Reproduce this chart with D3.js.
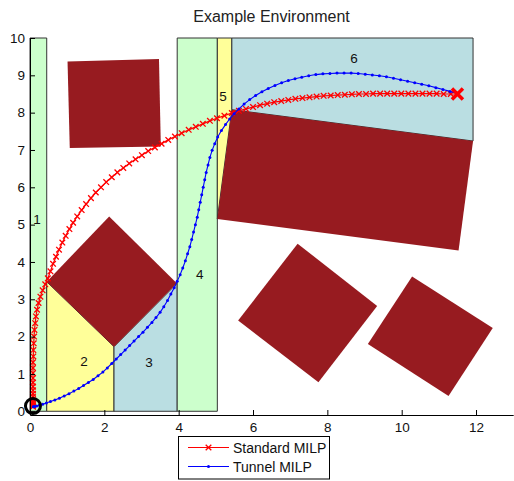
<!DOCTYPE html>
<html><head><meta charset="utf-8">
<script src="https://cdn.jsdelivr.net/npm/d3@7"></script>
<style>
html,body{margin:0;padding:0;background:#fff;}
svg{display:block;font-family:"Liberation Sans",Arial,Helvetica,sans-serif;}
</style></head>
<body><svg id="c" width="514" height="481"></svg>
<script>
// ---------- data ----------
const xTicks = [0,2,4,6,8,10,12];
const yTicks = [0,1,2,3,4,5,6,7,8,9,10];
const title = "Example Environment";
const seriesNames = ["Standard MILP","Tunnel MILP"];

const regionIds = [1,2,3,4,5,6];
const regionKinds = ["green","yellow","blue","green","yellow","blue"];
const regionPolys = [
  [[0,0],[0.45,0],[0.45,10],[0,10]],
  [[0.45,0],[2.26,0],[2.26,1.73],[0.45,3.47]],
  [[2.26,0],[3.96,0],[3.96,3.43],[2.26,1.73]],
  [[3.96,0],[5.04,0],[5.04,10],[3.96,10]],
  [[5.04,5.15],[5.43,8.08],[5.43,10],[5.04,10]],
  [[5.43,8.08],[11.92,7.24],[11.92,10],[5.43,10]]
];
const regionLabelPos = [[0.19,5.13],[1.45,1.32],[3.2,1.30],[4.57,3.66],[5.19,8.42],[8.72,9.45]];

const obstacles = [
  [[1.01,9.37],[3.47,9.44],[3.52,7.09],[1.07,7.05]],
  [[2.13,5.22],[3.95,3.43],[2.26,1.73],[0.45,3.47]],
  [[5.43,8.08],[11.92,7.24],[11.53,4.31],[5.04,5.15]],
  [[7.20,4.49],[9.34,2.82],[7.76,0.78],[5.60,2.43]],
  [[10.28,3.61],[12.45,2.23],[11.26,0.41],[9.09,1.80]]
];

const startPoint = [0.08,0.14];
const goalPoint = [11.5,8.5];

const standardMILP = [
 [0.08,0.12],[0.08,0.14],[0.08,0.17],[0.08,0.21],[0.08,0.26],[0.08,0.32],[0.08,0.39],[0.08,0.47],
 [0.08,0.56],[0.08,0.66],[0.08,0.77],[0.08,0.89],[0.08,1.02],[0.08,1.16],[0.08,1.31],[0.09,1.47],
 [0.09,1.64],[0.1,1.82],[0.11,2.0],[0.12,2.18],[0.14,2.36],[0.16,2.54],[0.19,2.72],[0.23,2.9],
 [0.28,3.07],[0.34,3.24],[0.41,3.40],[0.48,3.56],
 [0.55,3.75],[0.62,3.95],[0.7,4.14],[0.78,4.33],[0.87,4.52],[0.96,4.7],[1.06,4.88],[1.16,5.05],
 [1.27,5.22],[1.39,5.39],[1.51,5.55],[1.64,5.71],[1.77,5.86],[1.91,6.0],[2.05,6.14],[2.2,6.27],
 [2.35,6.4],[2.51,6.52],[2.67,6.64],[2.84,6.75],[3.01,6.86],[3.18,6.97],[3.36,7.07],[3.54,7.17],
 [3.72,7.27],[3.9,7.36],[4.08,7.45],[4.27,7.54],[4.46,7.62],[4.65,7.7],[4.84,7.78],[5.03,7.85],
 [5.23,7.92],[5.43,7.99],
 [5.62,8.05],[5.81,8.1],[6.0,8.15],[6.19,8.2],[6.38,8.24],[6.57,8.28],[6.76,8.31],[6.95,8.34],
 [7.14,8.37],[7.33,8.39],[7.52,8.41],[7.71,8.43],[7.9,8.45],[8.09,8.46],[8.28,8.47],[8.47,8.48],
 [8.66,8.49],[8.85,8.5],[9.04,8.5],[9.23,8.51],[9.42,8.51],[9.61,8.51],[9.8,8.51],[9.99,8.51],
 [10.18,8.51],[10.37,8.51],[10.56,8.51],[10.75,8.51],[10.94,8.51],[11.13,8.5],[11.32,8.5],[11.5,8.5]
];

const tunnelMILP = [
 [0.09,0.12],[0.1,0.12],[0.13,0.13],[0.18,0.14],[0.25,0.16],[0.34,0.19],[0.44,0.22],[0.55,0.26],
 [0.67,0.3],[0.79,0.35],[0.92,0.41],[1.05,0.47],[1.18,0.54],[1.31,0.61],[1.44,0.69],[1.57,0.77],
 [1.7,0.85],[1.83,0.95],[1.96,1.05],[2.08,1.16],[2.2,1.28],[2.32,1.4],[2.44,1.52],[2.56,1.64],
 [2.68,1.76],[2.8,1.88],[2.92,2.0],[3.04,2.12],[3.16,2.25],[3.28,2.38],[3.39,2.51],[3.5,2.65],
 [3.6,2.8],[3.7,2.97],[3.79,3.14],[3.88,3.31],[3.96,3.48],[4.04,3.66],[4.11,3.84],[4.18,4.03],
 [4.24,4.22],[4.3,4.41],[4.35,4.6],[4.4,4.8],[4.45,5.0],[4.5,5.2],[4.54,5.4],[4.58,5.6],
 [4.62,5.8],[4.66,6.0],[4.7,6.2],[4.74,6.4],[4.79,6.6],[4.84,6.8],[4.9,6.99],[4.97,7.17],
 [5.05,7.35],[5.15,7.52],[5.26,7.68],[5.37,7.83],[5.49,7.97],[5.62,8.1],[5.76,8.23],[5.91,8.35],
 [6.07,8.46],[6.24,8.56],[6.41,8.65],[6.59,8.73],[6.77,8.8],[6.95,8.86],[7.13,8.91],[7.31,8.95],
 [7.5,8.99],[7.69,9.02],[7.88,9.04],[8.07,9.05],[8.26,9.06],[8.45,9.06],[8.64,9.06],[8.83,9.05],
 [9.02,9.03],[9.21,9.01],[9.4,8.99],[9.59,8.96],[9.78,8.92],[9.97,8.88],[10.16,8.84],[10.35,8.8],
 [10.54,8.76],[10.73,8.72],[10.92,8.67],[11.11,8.62],[11.3,8.57],[11.48,8.52]
];

// ---------- styles ----------
const kindColor = {green:"#ccffcc", yellow:"#ffff99", blue:"#badee2"};
const obstacleColor = "#971b20";
const redColor = "#ff0000", blueColor = "#0000ff";

// ---------- drawing ----------
const svg = d3.select("#c");
const x = d3.scaleLinear().domain([0,13]).range([30,513.2]);
const y = d3.scaleLinear().domain([-0.1,10]).range([415,38]);
const pt = d => [x(d[0]), y(d[1])];

svg.append("text").attr("x",271.5).attr("y",22).attr("text-anchor","middle")
  .attr("font-size",16).attr("fill","#222").text(title);

svg.append("g").selectAll("polygon").data(regionPolys).join("polygon")
  .attr("points", d => d.map(pt).map(p=>p.join(",")).join(" "))
  .attr("fill", (d,i) => kindColor[regionKinds[i]])
  .attr("stroke","#333").attr("stroke-width",1);

svg.append("g").selectAll("polygon").data(obstacles).join("polygon")
  .attr("points", d => d.map(pt).map(p=>p.join(",")).join(" "))
  .attr("fill", obstacleColor);

svg.append("g").selectAll("text").data(regionIds).join("text")
  .attr("x",(d,i)=>x(regionLabelPos[i][0])).attr("y",(d,i)=>y(regionLabelPos[i][1]))
  .attr("text-anchor","middle").attr("dominant-baseline","central")
  .attr("font-size",13.5).attr("fill","#111").text(d=>d);

const line = d3.line().x(d=>x(d[0])).y(d=>y(d[1]));
const xMark = (s) => `M${-s},${-s}L${s},${s}M${-s},${s}L${s},${-s}`;

// Standard MILP
svg.append("path").attr("d",line(standardMILP)).attr("fill","none")
  .attr("stroke",redColor).attr("stroke-width",1.2);
svg.append("g").selectAll("path").data(standardMILP).join("path")
  .attr("transform",d=>`translate(${x(d[0])},${y(d[1])})`)
  .attr("d",xMark(2.8)).attr("stroke",redColor).attr("stroke-width",1.3).attr("fill","none");

// Tunnel MILP
svg.append("path").attr("d",line(tunnelMILP)).attr("fill","none")
  .attr("stroke",blueColor).attr("stroke-width",1.1);
svg.append("g").selectAll("circle").data(tunnelMILP).join("circle")
  .attr("cx",d=>x(d[0])).attr("cy",d=>y(d[1])).attr("r",1.5).attr("fill",blueColor);

// start / goal
svg.append("circle").attr("cx",x(startPoint[0])).attr("cy",y(startPoint[1])).attr("r",7.5)
  .attr("fill","none").attr("stroke","#000").attr("stroke-width",3);
svg.append("path").attr("transform",`translate(${x(goalPoint[0])},${y(goalPoint[1])})`)
  .attr("d",xMark(5.5)).attr("stroke",redColor).attr("stroke-width",3.5).attr("fill","none");

// axes
const xAxis = d3.axisBottom(x).tickValues(xTicks).tickSizeInner(-5).tickSizeOuter(0).tickPadding(7);
const yAxis = d3.axisLeft(y).tickValues(yTicks).tickSizeInner(-5).tickSizeOuter(0).tickPadding(5);
const gx = svg.append("g").attr("transform","translate(0,415)").call(xAxis);
const gy = svg.append("g").attr("transform","translate(30,0)").call(yAxis);
[gx,gy].forEach(g=>{
  g.selectAll("text").attr("font-size",13.5).attr("fill","#111").attr("font-family","Liberation Sans, Arial, sans-serif");
  g.selectAll("line,path").attr("stroke","#000");
});

// legend
const lg = svg.append("g");
lg.append("rect").attr("x",178.5).attr("y",436.5).attr("width",151).attr("height",42.5)
  .attr("fill","#fff").attr("stroke","#000").attr("stroke-width",1);
const legY = [447.5,466.5];
const legColors = [redColor, blueColor];
seriesNames.forEach((name,i)=>{
  lg.append("line").attr("x1",188).attr("x2",229).attr("y1",legY[i]).attr("y2",legY[i])
    .attr("stroke",legColors[i]).attr("stroke-width",1);
  if(i===0){
    lg.append("path").attr("transform",`translate(208.5,${legY[i]})`).attr("d",xMark(2.8))
      .attr("stroke",redColor).attr("stroke-width",1.3);
  } else {
    lg.append("circle").attr("cx",208.5).attr("cy",legY[i]).attr("r",1.5).attr("fill",blueColor);
  }
  lg.append("text").attr("x",233).attr("y",legY[i]).attr("dominant-baseline","central")
    .attr("font-size",14).attr("fill","#111").text(name);
});
</script></body></html>
